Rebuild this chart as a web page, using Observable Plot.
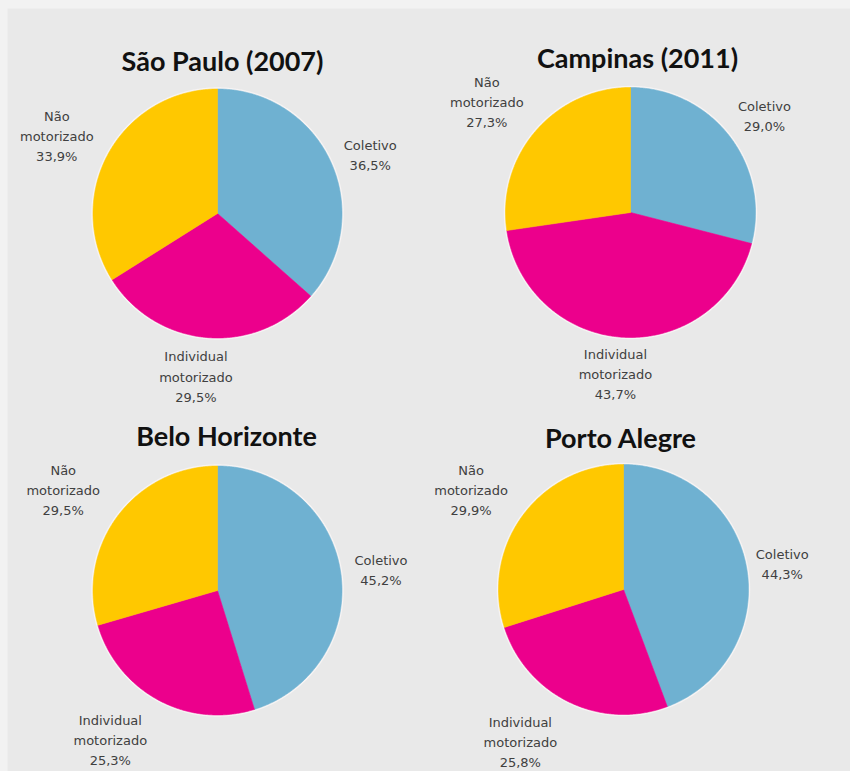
<!DOCTYPE html>
<html>
<head>
<meta charset="utf-8">
<script src="https://cdn.jsdelivr.net/npm/d3@7"></script>
<script src="https://cdn.jsdelivr.net/npm/@observablehq/plot@0.6"></script>
<style>
  html, body { margin: 0; padding: 0; background: #f2f2f2; }
  #chart svg { display: block; }
</style>
</head>
<body>
<div id="chart"></div>
<script>
// ---- Data ----
const cities = ["São Paulo (2007)", "Campinas (2011)", "Belo Horizonte", "Porto Alegre"];
const categories = ["Coletivo", "Individual motorizado", "Não motorizado"];
const coletivo = [36.5, 29.0, 45.2, 44.3];
const individualMotorizado = [29.5, 43.7, 25.3, 25.8];
const naoMotorizado = [33.9, 27.3, 29.5, 29.9];
const colors = ["#6fb1d1", "#ec008c", "#ffc800"];

// ---- Layout (pixel space) ----
const W = 850, H = 771;
const layout = [
  {cx: 217, cy: 213, r: 124.5, tx: 222, ty: 70},
  {cx: 630, cy: 212, r: 125,   tx: 637, ty: 67},
  {cx: 217, cy: 590, r: 124.5, tx: 226, ty: 445},
  {cx: 623, cy: 589, r: 125,   tx: 620, ty: 447}
];
// label placement: [angle nudge (deg) from slice mid-angle, distance from centre (px)]
const labelPlacement = [
  [[2.9, 164], [2.9, 163], [-2.8, 179]],
  [[1.6, 166], [2.3, 161], [-3.0, 182]],
  [[0.9, 165], [7.6, 183], [-3.4, 185]],
  [[0.7, 161], [8.4, 183], [-2.6, 183]]
];

// ---- Build geometry from data ----
const series = [coletivo, individualMotorizado, naoMotorizado];
const wedgePts = [];
const rimPts = [];
const labels = [];
const titles = [];
const fmt = v => v.toFixed(1).replace(".", ",") + "%";
const deg = Math.PI / 180;

cities.forEach((city, i) => {
  const L = layout[i];
  const values = series.map(s => s[i]);
  const arcs = d3.pie().sort(null).value(d => d)(values);
  arcs.forEach((a, j) => {
    const key = city + "|" + categories[j];
    wedgePts.push({key, category: categories[j], x: L.cx, y: L.cy});
    const n = Math.max(2, Math.ceil((a.endAngle - a.startAngle) / (0.5 * deg)));
    for (let k = 0; k <= n; k++) {
      const t = a.startAngle + (a.endAngle - a.startAngle) * k / n;
      wedgePts.push({key, category: categories[j], x: L.cx + L.r * Math.sin(t), y: L.cy - L.r * Math.cos(t)});
    }
    wedgePts.push({key, category: categories[j], x: L.cx, y: L.cy});
    const [nudge, dist] = labelPlacement[i][j];
    const mid = (a.startAngle + a.endAngle) / 2 + nudge * deg;
    labels.push({
      x: L.cx + dist * Math.sin(mid),
      y: L.cy - dist * Math.cos(mid),
      text: categories[j].replace(" ", "\n") + "\n" + fmt(values[j])
    });
  });
  for (let k = 0; k <= 720; k++) {
    const t = k * 0.5 * deg;
    rimPts.push({city, x: L.cx + (L.r + 0.6) * Math.sin(t), y: L.cy - (L.r + 0.6) * Math.cos(t)});
  }
  titles.push({x: L.tx, y: L.ty, text: city});
});

const chart = Plot.plot({
  width: W,
  height: H,
  margin: 0,
  style: {background: "#f2f2f2", overflow: "visible"},
  x: {domain: [0, W], range: [0, W], axis: null},
  y: {domain: [0, H], range: [0, H], axis: null},
  color: {domain: categories, range: colors},
  marks: [
    Plot.frame({fill: "#e9e9e9", stroke: "none", insetTop: 8, insetLeft: 7}),
    Plot.line(rimPts, {x: "x", y: "y", z: "city", stroke: "#f7f4f4", strokeWidth: 2.2, curve: "linear"}),
    Plot.line(wedgePts, {x: "x", y: "y", z: "key", fill: "category", stroke: "category", strokeWidth: 0.6, curve: "linear"}),
    Plot.text(labels, {
      x: "x", y: "y", text: "text",
      fontFamily: "DejaVu Sans", fontSize: 13, lineHeight: 1.55,
      fill: "#404040", textAnchor: "middle", lineAnchor: "middle"
    }),
    Plot.text(titles, {
      x: "x", y: "y", text: "text",
      fontFamily: "Lato", fontWeight: "bold", fontSize: 27,
      fill: "#111111", textAnchor: "middle", lineAnchor: "bottom"
    })
  ]
});
document.getElementById("chart").appendChild(chart);
</script>
</body>
</html>
